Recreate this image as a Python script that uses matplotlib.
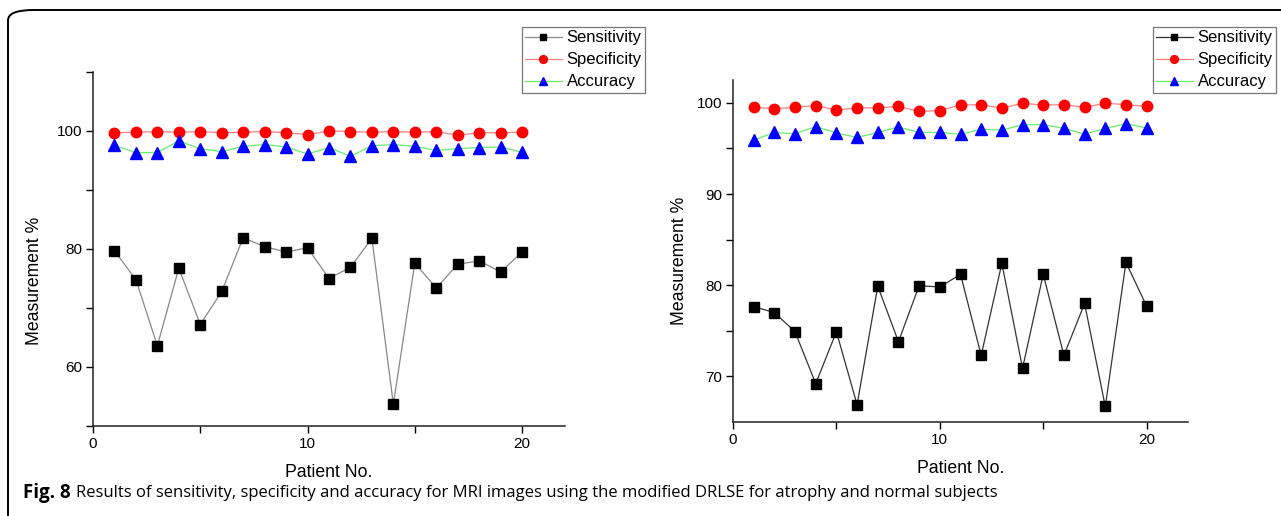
import numpy as np
import matplotlib
matplotlib.use('Agg')
import matplotlib.pyplot as plt
from matplotlib.patches import FancyBboxPatch

plt.rcParams['font.family'] = ['Liberation Sans', 'DejaVu Sans']

patients = np.arange(1, 21)

# Left panel (atrophy subjects)
sens_left = [79.7, 74.8, 63.6, 76.75, 67.2, 72.8, 81.9, 80.4, 79.5, 80.2,
             75.0, 76.9, 81.8, 53.7, 77.6, 73.4, 77.4, 78.0, 76.1, 79.5]
spec_left = [99.7, 99.8, 99.9, 99.8, 99.9, 99.7, 99.8, 99.9, 99.7, 99.4,
             100.0, 99.9, 99.8, 99.9, 99.8, 99.9, 99.3, 99.7, 99.7, 99.8]
acc_left = [97.55, 96.35, 96.35, 98.3, 97.0, 96.5, 97.4, 97.7, 97.3, 96.1,
            97.2, 95.7, 97.5, 97.7, 97.4, 96.7, 97.0, 97.2, 97.3, 96.4]

# Right panel (normal subjects)
sens_right = [77.65, 77.0, 74.9, 69.2, 74.9, 66.9, 79.9, 73.8, 79.95, 79.8,
              81.2, 72.3, 82.4, 70.9, 81.2, 72.3, 78.0, 66.7, 82.5, 77.7]
spec_right = [99.5, 99.35, 99.5, 99.7, 99.2, 99.45, 99.45, 99.6, 99.05, 99.15,
              99.75, 99.8, 99.4, 99.95, 99.75, 99.8, 99.5, 99.95, 99.8, 99.6]
acc_right = [95.9, 96.75, 96.6, 97.4, 96.7, 96.2, 96.75, 97.35, 96.75, 96.75,
             96.55, 97.1, 97.0, 97.6, 97.6, 97.2, 96.55, 97.2, 97.7, 97.25]

caption_bold = 'Fig. 8'
caption = ('Results of sensitivity, specificity and accuracy for MRI images '
           'using the modified DRLSE for atrophy and normal subjects')

W, H = 1281, 516
fig = plt.figure(figsize=(W / 100, H / 100), dpi=100)


def px_rect(x0, y0, x1, y1):
    # pixel box (top-left origin) -> figure fraction rect
    return [x0 / W, 1 - y1 / H, (x1 - x0) / W, (y1 - y0) / H]


def panel(rect, sens, spec, acc, ylim, major, minor, legend_xy, sens_line, ylab_xy):
    ax = fig.add_axes(rect)
    ax.plot(patients, sens, color=sens_line, lw=0.9, marker='s', ms=6.5,
            mfc='black', mec='black', label='Sensitivity')
    ax.plot(patients, spec, color='#ff8080', lw=0.9, marker='o', ms=7.5,
            mfc='red', mec='red', label='Specificity')
    ax.plot(patients, acc, color='#66ee66', lw=0.9, marker='^', ms=8,
            mfc='blue', mec='blue', label='Accuracy')
    ax.set_xlim(0, 22)
    ax.set_ylim(*ylim)
    ax.set_xticks([0, 10, 20])
    ax.set_xticks([5, 15], minor=True)
    ax.set_yticks(major)
    ax.set_yticks(minor, minor=True)
    for s in ['top', 'right']:
        ax.spines[s].set_visible(False)
    for s in ['left', 'bottom']:
        ax.spines[s].set_linewidth(1.1)
        ax.spines[s].set_color('#222222')
    ax.tick_params(which='both', direction='out', length=5, width=1, labelsize=11, pad=3)
    ax.set_xlabel('Patient No.', fontsize=12.7, labelpad=9)
    ax.set_ylabel('Measurement %', fontsize=12.7)
    ax.yaxis.set_label_coords(*ylab_xy)
    leg = fig.legend(handles=ax.get_lines(), loc='upper right',
                     bbox_to_anchor=legend_xy, fontsize=12, frameon=True,
                     fancybox=False, edgecolor='#555555', handlelength=2.2,
                     handletextpad=0.3, borderpad=0.2, labelspacing=0.42,
                     borderaxespad=0, markerscale=0.75)
    leg.get_frame().set_linewidth(0.9)
    return ax


panel(px_rect(93, 72, 565, 426), sens_left, spec_left, acc_left,
      (50, 110), [60, 80, 100], [50, 70, 90, 110], (645 / W, 1 - 27 / H), '#888888',
      (-0.106, 0.41))
panel(px_rect(733, 80, 1188, 422), sens_right, spec_right, acc_right,
      (65, 102.5), [70, 80, 90, 100], [75, 85, 95], (1276 / W, 1 - 27 / H), '#333333',
      (-0.099, 0.47))

# rounded frame (top and left edges only visible)
frame = FancyBboxPatch((8 / W, -0.2), 1.3, 1.2 - 10 / H,
                       boxstyle='round,pad=0,rounding_size=0.02',
                       transform=fig.transFigure, fill=False,
                       edgecolor='black', lw=1.4, clip_on=False)
fig.patches.append(frame)

cap_font = ['Open Sans', 'DejaVu Sans']
t_bold = fig.text(23 / W, 1 - 493 / H, caption_bold, fontsize=13.5, fontweight='bold',
                  family=cap_font, va='center', ha='left')
renderer = fig.canvas.get_renderer()
bb = t_bold.get_window_extent(renderer)
t_main = fig.text((bb.x1 + 5) / W, 1 - 493 / H, caption, fontsize=12,
                  family=cap_font, va='center', ha='left')
# fit the caption to the reference width (condensed face not installed)
wb = t_main.get_window_extent(renderer)
target = 1045 - (bb.x1 + 5)
if wb.width > target:
    t_main.set_fontsize(12 * target / wb.width)

fig.savefig('out.png', dpi=100)
